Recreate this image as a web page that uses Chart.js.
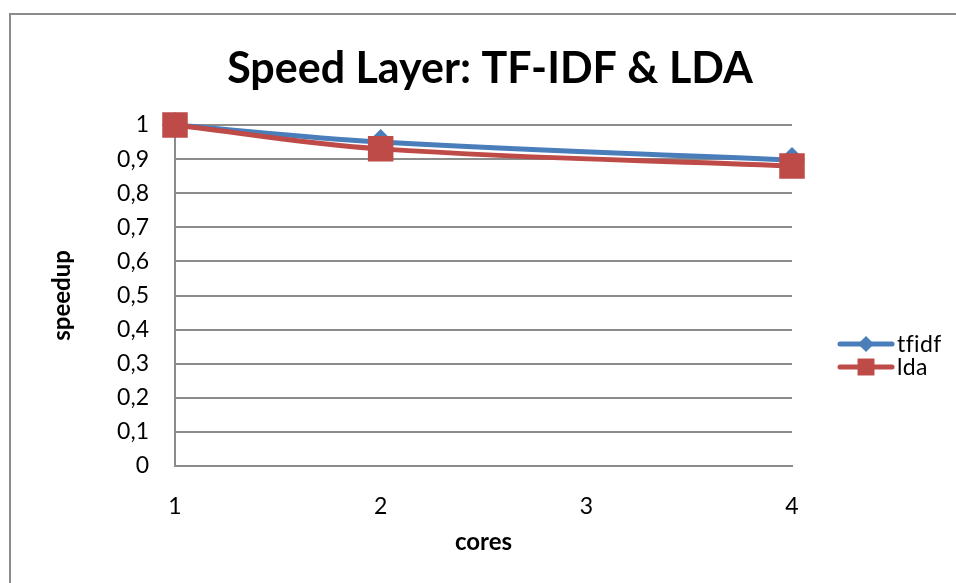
<!DOCTYPE html>
<html>
<head>
<meta charset="utf-8">
<title>Speed Layer: TF-IDF & LDA</title>
<script src="https://cdn.jsdelivr.net/npm/chart.js@4/dist/chart.umd.min.js"></script>
<style>
    html, body { margin: 0; padding: 0; background: #fff; }
    #wrap { position: relative; width: 956px; height: 583px; overflow: hidden; }
    #frame { position: absolute; left: 9px; top: 13px; width: 1000px; height: 600px; border: 2px solid #8c8c8c; }
    #speedChart { position: absolute; left: 0; top: 0; }
</style>
</head>
<body>
<div id="wrap">
    <div id="frame"></div>
    <canvas id="speedChart" width="956" height="583"></canvas>
</div>
<script>
// values
const cores = [1, 2, 4];
const tfidfSpeedup = [1, 0.95, 0.897];
const ldaSpeedup = [1, 0.93, 0.88];
const seriesNames = ["tfidf", "lda"];
const coreTicks = [1, 2, 3, 4];
const chartTitle = "Speed Layer: TF-IDF & LDA";

const FONT = "Lato, 'Open Sans', sans-serif";
const BLUE = "#4a7ebb";
const RED = "#be4b48";

function toPoints(values) {
    return cores.map((c, i) => ({ x: c, y: values[i] }));
}

// title centred on the frame, legend on the right with line + marker
const extras = {
    id: "extras",
    afterDraw(chart) {
        const ctx = chart.ctx;
        const area = chart.chartArea;

        ctx.save();
        ctx.fillStyle = "#000";
        ctx.font = "bold 43px " + FONT;
        ctx.textAlign = "center";
        ctx.textBaseline = "alphabetic";
        ctx.fillText(chartTitle, 490, 83);
        ctx.restore();

        const x0 = area.right + 46;
        chart.data.datasets.forEach((ds, i) => {
            const y = 344 + i * 23;
            ctx.save();
            ctx.strokeStyle = ds.borderColor;
            ctx.lineWidth = 5;
            ctx.lineCap = "round";
            ctx.beginPath();
            ctx.moveTo(x0 + 2, y);
            ctx.lineTo(x0 + 54, y);
            ctx.stroke();
            ctx.fillStyle = ds.pointBackgroundColor;
            ctx.strokeStyle = ds.pointBackgroundColor;
            Chart.helpers.drawPoint(ctx, {
                pointStyle: ds.pointStyle,
                radius: ds.legendRadius,
                rotation: 0,
                borderWidth: 0
            }, x0 + 28, y);
            ctx.fillStyle = "#000";
            ctx.font = "23px " + FONT;
            ctx.letterSpacing = "0.4px";
            ctx.textRendering = "optimizeSpeed";
            ctx.textAlign = "left";
            ctx.textBaseline = "middle";
            ctx.fillText(ds.label, x0 + 59, y + 1);
            ctx.restore();
        });
    }
};

new Chart(document.getElementById("speedChart"), {
    type: "line",
    data: {
        datasets: [{
            label: seriesNames[0],
            data: toPoints(tfidfSpeedup),
            borderColor: BLUE,
            backgroundColor: BLUE,
            pointBackgroundColor: BLUE,
            pointBorderColor: BLUE,
            pointStyle: "rectRot",
            pointRadius: 9.5,
            legendRadius: 8,
            borderWidth: 5,
            tension: 0.4,
            clip: false,
            order: 1
        }, {
            label: seriesNames[1],
            data: toPoints(ldaSpeedup),
            borderColor: RED,
            backgroundColor: RED,
            pointBackgroundColor: RED,
            pointBorderColor: RED,
            pointStyle: "rect",
            pointRadius: 14.5,
            legendRadius: 12,
            borderWidth: 5,
            tension: 0.4,
            clip: false,
            order: 0
        }]
    },
    options: {
        responsive: false,
        animation: false,
        layout: {
            padding: { left: 40, right: 164, top: 125, bottom: 20 }
        },
        plugins: {
            legend: { display: false },
            tooltip: { enabled: false },
            title: { display: false }
        },
        scales: {
            x: {
                type: "linear",
                min: 1,
                max: 4,
                afterBuildTicks(scale) {
                    scale.ticks = coreTicks.map(v => ({ value: v }));
                },
                afterFit(scale) {
                    scale.height = 97;
                },
                grid: { display: false, drawTicks: false },
                border: { display: true, color: "#8c8c8c", width: 2 },
                ticks: {
                    color: "#000",
                    padding: 27,
                    font: { family: FONT, size: 23 }
                },
                title: {
                    display: true,
                    text: "cores",
                    color: "#000",
                    font: { family: FONT, size: 24, weight: "bold" },
                    padding: { top: 4, bottom: 6 }
                }
            },
            y: {
                min: 0,
                max: 1,
                afterFit(scale) {
                    scale.width = 135;
                },
                grid: { color: "#8c8c8c", lineWidth: 2, drawTicks: false },
                border: { display: true, color: "#8c8c8c", width: 2 },
                ticks: {
                    stepSize: 0.1,
                    color: "#000",
                    padding: 26,
                    font: { family: FONT, size: 23 },
                    callback: v => String(Number(v.toFixed(1))).replace(".", ",")
                },
                title: {
                    display: true,
                    text: "speedup",
                    color: "#000",
                    font: { family: FONT, size: 24, weight: "bold" },
                    padding: { top: 8, bottom: 0 }
                }
            }
        }
    },
    plugins: [extras]
});
</script>
</body>
</html>
